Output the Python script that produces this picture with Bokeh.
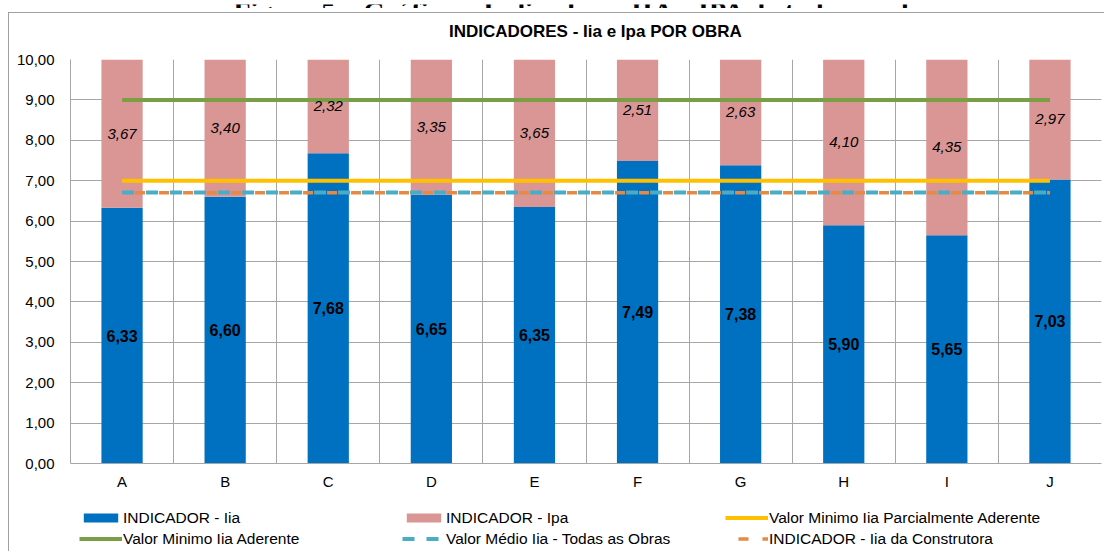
from bokeh.plotting import figure
from bokeh.layouts import column
from bokeh.models import (Range1d, FixedTicker, Legend, LegendItem, ColumnDataSource, InlineStyleSheet)
from bokeh.core.properties import value
from bokeh.embed import file_html
from bokeh.resources import INLINE

categories = ["A", "B", "C", "D", "E", "F", "G", "H", "I", "J"]
iia = [6.33, 6.60, 7.68, 6.65, 6.35, 7.49, 7.38, 5.90, 5.65, 7.03]
ipa = [3.67, 3.40, 2.32, 3.35, 3.65, 2.51, 2.63, 4.10, 4.35, 2.97]
valor_min_aderente = 9.0
valor_min_parcial = 7.0
valor_medio_iia = 6.71
iia_construtora = 6.70
y_ticks = [0, 1, 2, 3, 4, 5, 6, 7, 8, 9, 10]
y_tick_labels = ["0,00", "1,00", "2,00", "3,00", "4,00", "5,00", "6,00", "7,00", "8,00", "9,00", "10,00"]
caption = "Figura 5 – Gráfico – Indicadores IIA e IPA de todas as obras"
title = "INDICADORES - Iia e Ipa POR OBRA"
legend_labels = ["INDICADOR - Iia", "INDICADOR - Ipa", "Valor Minimo Iia Parcialmente Aderente",
                 "Valor Minimo Iia Aderente", "Valor Médio Iia - Todas as Obras", "INDICADOR - Iia da Construtora"]

FONT = "Liberation Sans"
BLUE = "#0070C0"
PINK = "#D99694"
GREEN = "#7A9E45"
YELLOW = "#FFC000"
CYAN = "#4BACC6"
ORANGE = "#E48A44"
GRID = "#A6A6A6"
BORDER = "#A0A0A0"

def fmt(v):
    return f"{v:.2f}".replace(".", ",")

xs = list(range(1, len(categories) + 1))
tops = [a + b for a, b in zip(iia, ipa)]
src = ColumnDataSource(dict(
    x=xs, iia=iia, top=tops,
    iia_mid=[a / 2 for a in iia],
    ipa_mid=[a + b / 2 for a, b in zip(iia, ipa)],
    iia_lbl=[fmt(v) for v in iia],
    ipa_lbl=[fmt(v) for v in ipa],
))
x_line = [xs[0], xs[-1]]

def strip(height, css):
    f = figure(width=1104, height=height, output_backend="svg", toolbar_location=None,
               x_range=Range1d(0, 1104), y_range=Range1d(0, height),
               min_border=0, x_axis_location=None, y_axis_location=None)
    f.grid.visible = False
    f.outline_line_color = None
    if css:
        f.stylesheets = [InlineStyleSheet(css=":host::after{content:'';position:absolute;pointer-events:none;" + css + "}")]
    return f

# ---- caption strip (document caption, cut at the top like in the source image)
pc = strip(8, None)
pc.text(x=[562], y=[0.6], text=[caption], text_align="center", text_baseline="alphabetic",
        text_font=value("Liberation Serif"), text_font_style="bold", text_font_size="28px", text_color="black")

# ---- chart title strip
pt = strip(43, f"left:8px;top:4px;right:0;bottom:0;border-left:1px solid {BORDER};border-top:1px solid {BORDER};")
pt.text(x=[562], y=[20], text=[title], text_align="center", text_baseline="middle",
        text_font=value(FONT), text_font_style="bold", text_font_size="17px", text_color="black")

# ---- main chart
p = figure(width=1104, height=449, output_backend="svg", toolbar_location=None,
           x_range=Range1d(0.5, len(categories) + 0.5), y_range=Range1d(0, 10),
           min_border_left=70, min_border_right=3, min_border_top=8, min_border_bottom=37)
p.outline_line_color = None
p.background_fill_color = "white"
p.border_fill_color = "white"
p.stylesheets = [InlineStyleSheet(css=":host::after{content:'';position:absolute;left:8px;top:0;bottom:0;"
                                      f"border-left:1px solid {BORDER};pointer-events:none;}}")]

p.yaxis.ticker = FixedTicker(ticks=y_ticks)
p.yaxis.major_label_overrides = {t: l for t, l in zip(y_ticks, y_tick_labels)}
p.xaxis.ticker = FixedTicker(ticks=xs)
p.xaxis.major_label_overrides = {x: c for x, c in zip(xs, categories)}
for ax in (p.xaxis, p.yaxis):
    ax.major_tick_line_color = None
    ax.minor_tick_line_color = None
    ax.axis_line_color = GRID
    ax.major_label_text_font = FONT
    ax.major_label_text_font_size = "15px"
    ax.major_label_text_color = "black"
p.yaxis.major_label_standoff = 10
p.xaxis.major_label_standoff = 3

p.xgrid.ticker = FixedTicker(ticks=[i + 0.5 for i in range(0, len(categories) + 1)])
p.xgrid.grid_line_color = GRID
p.ygrid.grid_line_color = GRID

def add_series(fig, s):
    r1 = fig.vbar(x="x", top="iia", bottom=0, width=0.4, source=s, fill_color=BLUE, line_color=None)
    r2 = fig.vbar(x="x", top="top", bottom="iia", width=0.4, source=s, fill_color=PINK, line_color=None)
    r3 = fig.line(x_line, [valor_min_parcial] * 2, line_color=YELLOW, line_width=4)
    r4 = fig.line(x_line, [valor_min_aderente] * 2, line_color=GREEN, line_width=4)
    r5 = fig.line(x_line, [valor_medio_iia] * 2, line_color=CYAN, line_width=4, line_dash="12 12")
    r6 = fig.line(x_line, [iia_construtora] * 2, line_color=ORANGE, line_width=3.5, line_dash="10 14",
                  line_dash_offset=11)
    return [r1, r2, r3, r4, r5, r6]

add_series(p, src)

p.text(x="x", y="iia_mid", text="iia_lbl", source=src, text_align="center", text_baseline="middle",
       text_font=value(FONT), text_font_size="16px", text_font_style="bold", text_color="black")
p.text(x="x", y="ipa_mid", text="ipa_lbl", source=src, text_align="center", text_baseline="middle",
       text_font=value(FONT), text_font_size="15px", text_font_style="italic", text_color="black")

# ---- legend strip (same series, placed far outside its visible range so only the legend shows)
pl = figure(width=1104, height=51, output_backend="svg", toolbar_location=None,
            x_range=Range1d(0.5, len(categories) + 0.5), y_range=Range1d(1000, 1001),
            min_border=0, x_axis_location=None, y_axis_location=None)
pl.grid.visible = False
pl.outline_line_color = None
pl.stylesheets = [InlineStyleSheet(css=":host::after{content:'';position:absolute;left:8px;top:0;bottom:0;"
                                       f"border-left:1px solid {BORDER};pointer-events:none;}}")]
leg_renderers = add_series(pl, ColumnDataSource(dict(x=xs, iia=iia, top=tops)))

legend = Legend(items=[LegendItem(label=lab, renderers=[r]) for lab, r in zip(legend_labels, leg_renderers)],
                orientation="horizontal", ncols=3, location=(9, 3))
legend.glyph_width = 43
legend.glyph_height = 11
legend.label_standoff = 1
legend.label_width = 277
legend.label_height = 19
legend.spacing = 2
legend.padding = 0
legend.margin = 0
legend.border_line_color = None
legend.background_fill_alpha = 0
legend.label_text_font = FONT
legend.label_text_font_size = "15.5px"
legend.label_text_color = "black"
pl.add_layout(legend, "center")

layout = column(pc, pt, p, pl, spacing=0)
open("out.html", "w").write(file_html(layout, INLINE))
